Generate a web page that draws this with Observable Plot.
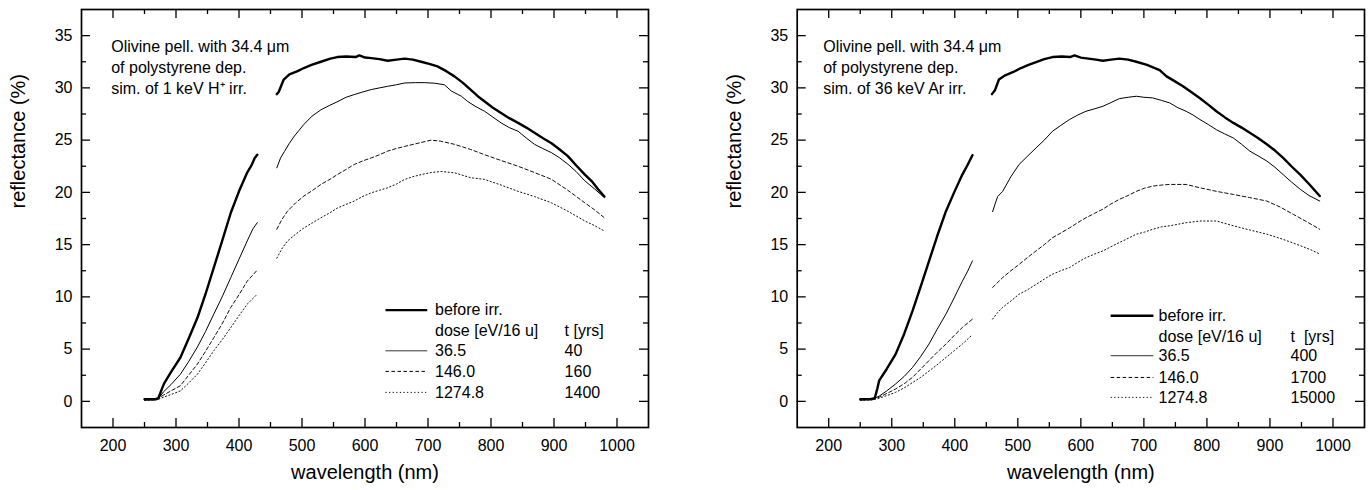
<!DOCTYPE html>
<html><head><meta charset="utf-8">
<script src="https://cdn.jsdelivr.net/npm/d3@7"></script>
<script src="https://cdn.jsdelivr.net/npm/@observablehq/plot@0.6"></script>
<style>
body{margin:0;background:#fff;}
#row{display:flex;width:1372px;height:490px;}
svg{font-family:"Liberation Sans",Arial,sans-serif;}
</style></head><body><div id="row"></div>
<script>
// ---- ticks ----
const xMajor = [200,300,400,500,600,700,800,900,1000];
const xMinor = [250,350,450,550,650,750,850,950];
const yMajor = [0,5,10,15,20,25,30,35];
const yMinor = [2.5,7.5,12.5,17.5,22.5,27.5,32.5];

// ---- legend labels ----
const doses = ["36.5","146.0","1274.8"];
const yearsLeft = ["40","160","1400"];
const yearsRight = ["400","1700","15000"];
const noteLeft = "Olivine pell. with 34.4 \u03bcm\nof polystyrene dep.\nsim. of 1 keV H\u207a irr.";
const noteRight = "Olivine pell. with 34.4 \u03bcm\nof polystyrene dep.\nsim. of 36 keV Ar irr.";

// ---- left panel (1 keV H+) : [wavelength nm, reflectance %] ----
const L_beforeUV = [[250,0.2],[258,0.22],[266,0.2],[272,0.3],[277,1.1],[281,1.7],[292,2.8],[307,4.2],[320,6.0],[334,8.0],[347,10.3],[360,12.8],[374,15.5],[387,18.05],[400,20.1],[413,21.9],[420,22.6],[425,23.3],[429,23.6]];
const L_beforeVIS = [[460,29.4],[463,29.6],[471,30.8],[480,31.3],[493,31.6],[503,31.9],[515,32.2],[530,32.5],[545,32.8],[556,32.95],[570,33.0],[585,32.95],[591,33.1],[600,32.9],[610,32.85],[623,32.75],[636,32.6],[650,32.7],[663,32.8],[676,32.7],[689,32.5],[702,32.3],[715,32.06],[729,31.6],[742,31.1],[755,30.5],[768,29.8],[779,29.2],[790,28.7],[803,28.1],[816,27.6],[829,27.1],[843,26.65],[856,26.2],[869,25.7],[882,25.2],[896,24.7],[909,24.1],[922,23.47],[935,22.6],[949,21.7],[961,21.0],[970,20.3],[980,19.6]];
const L_d1UV = [[250,0.15],[266,0.15],[272,0.25],[280,0.9],[292,1.6],[307,2.6],[320,3.8],[334,5.2],[347,6.7],[360,8.35],[374,10.1],[387,11.85],[400,13.6],[413,15.35],[422,16.5],[429,17.1]];
const L_d1VIS = [[460,22.35],[466,23.3],[472,23.9],[480,24.7],[488,25.4],[503,26.5],[516,27.3],[530,27.9],[543,28.3],[557,28.7],[570,29.1],[583,29.36],[596,29.6],[610,29.84],[623,30.0],[636,30.15],[650,30.3],[663,30.47],[680,30.5],[694,30.5],[710,30.45],[726,30.3],[737,29.7],[753,29.2],[763,28.7],[776,28.2],[790,27.76],[803,27.2],[816,26.65],[829,26.2],[843,25.85],[856,25.2],[869,24.6],[882,24.2],[896,23.8],[909,23.3],[922,22.7],[935,22.0],[949,21.1],[965,20.3],[980,19.5]];
const L_d2UV = [[250,0.15],[270,0.2],[280,0.6],[292,1.0],[307,1.5],[320,2.5],[334,3.57],[347,4.8],[360,6.1],[374,7.5],[387,9.0],[400,10.2],[413,11.5],[428,12.5]];
const L_d2VIS = [[460,16.47],[468,17.4],[477,18.2],[490,19.0],[503,19.65],[517,20.2],[530,20.76],[543,21.2],[556,21.7],[570,22.2],[583,22.67],[596,23.0],[610,23.3],[623,23.6],[636,23.95],[650,24.2],[663,24.4],[684,24.7],[705,25.0],[720,24.9],[742,24.6],[768,24.1],[790,23.6],[816,23.05],[843,22.5],[869,21.9],[896,21.25],[922,20.2],[949,19.0],[965,18.3],[980,17.57]];
const L_d3UV = [[250,0.1],[270,0.15],[280,0.4],[292,0.65],[307,1.0],[320,1.75],[334,2.6],[347,3.7],[360,4.85],[374,5.95],[387,7.07],[400,8.2],[413,9.3],[429,10.26]];
const L_d3VIS = [[460,13.7],[468,14.6],[477,15.35],[490,16.0],[503,16.6],[517,17.1],[530,17.57],[543,18.0],[556,18.5],[570,18.85],[583,19.17],[596,19.6],[610,19.96],[623,20.2],[636,20.44],[650,20.8],[663,21.24],[676,21.5],[689,21.7],[705,21.9],[721,22.0],[742,21.87],[768,21.4],[790,21.24],[816,20.7],[843,20.1],[869,19.6],[896,19.0],[922,18.2],[949,17.26],[965,16.8],[980,16.3]];

// ---- right panel (36 keV Ar) ----
const R_beforeUV = [[250,0.2],[258,0.22],[266,0.2],[273,0.3],[277,1.2],[280,1.98],[292,3.1],[306,4.5],[320,6.5],[333,8.66],[346,11.0],[359,13.4],[372,15.8],[386,18.2],[399,20.0],[412,21.7],[420,22.6],[428,23.56]];
const R_beforeVIS = [[459,29.4],[464,29.8],[470,30.8],[480,31.2],[492,31.5],[505,31.9],[517,32.2],[529,32.47],[542,32.75],[555,32.95],[570,33.0],[583,32.95],[590,33.1],[600,32.9],[612,32.8],[624,32.7],[635,32.6],[648,32.7],[661,32.8],[675,32.7],[688,32.5],[705,32.2],[725,31.7],[736,31.1],[750,30.6],[762,30.15],[775,29.6],[789,29.0],[802,28.4],[815,27.76],[828,27.2],[842,26.65],[855,26.2],[868,25.7],[881,25.2],[895,24.6],[908,24.0],[921,23.3],[934,22.5],[948,21.7],[962,20.8],[979,19.65]];
const R_d1UV = [[250,0.15],[270,0.2],[280,0.5],[292,1.0],[306,1.66],[320,2.4],[333,3.25],[346,4.3],[359,5.48],[372,6.9],[386,8.35],[399,9.9],[412,11.5],[420,12.4],[428,13.44]];
const R_d1VIS = [[460,18.15],[464,18.9],[468,19.6],[476,20.1],[489,21.5],[502,22.67],[516,23.5],[529,24.26],[542,25.0],[555,25.85],[568,26.4],[582,26.97],[595,27.4],[608,27.76],[622,28.0],[635,28.24],[648,28.6],[661,28.97],[675,29.1],[688,29.2],[700,29.1],[714,29.04],[728,28.8],[741,28.56],[754,28.1],[767,27.76],[778,27.4],[789,26.97],[802,26.5],[815,26.0],[828,25.6],[842,25.2],[855,24.6],[868,23.95],[881,23.5],[895,23.0],[908,22.4],[921,21.7],[934,21.0],[948,20.3],[962,19.7],[979,19.17]];
const R_d2UV = [[250,0.15],[270,0.2],[280,0.4],[292,0.75],[306,1.18],[320,1.7],[333,2.3],[346,3.1],[359,3.9],[372,4.7],[386,5.48],[399,6.3],[412,7.07],[428,7.87]];
const R_d2VIS = [[460,10.9],[476,11.85],[489,12.5],[502,13.1],[516,13.8],[529,14.4],[542,15.0],[555,15.66],[568,16.1],[582,16.6],[595,17.1],[608,17.57],[622,18.0],[635,18.4],[648,18.9],[661,19.33],[675,19.7],[688,20.1],[701,20.4],[714,20.6],[728,20.7],[741,20.76],[767,20.76],[789,20.44],[815,20.1],[842,19.8],[868,19.5],[895,19.17],[916,18.6],[937,17.9],[958,17.2],[979,16.47]];
const R_d3UV = [[250,0.1],[270,0.15],[280,0.3],[292,0.55],[306,0.86],[320,1.3],[333,1.8],[346,2.3],[359,2.9],[372,3.5],[386,4.2],[399,4.85],[412,5.48],[426,6.27]];
const R_d3VIS = [[460,7.87],[468,8.5],[476,9.0],[489,9.6],[502,10.26],[516,10.7],[529,11.2],[542,11.7],[555,12.17],[568,12.5],[582,12.8],[595,13.3],[608,13.75],[622,14.1],[635,14.4],[648,14.8],[661,15.2],[675,15.6],[688,16.0],[701,16.2],[714,16.47],[728,16.7],[741,16.8],[767,17.1],[789,17.26],[815,17.26],[842,16.8],[868,16.4],[895,16.0],[921,15.5],[948,14.9],[965,14.5],[979,14.1]];

const styles = [
  {stroke: "#000", strokeWidth: 2.4},
  {stroke: "#000", strokeWidth: 1},
  {stroke: "#111", strokeWidth: 1, strokeDasharray: "3.5,2.5"},
  {stroke: "#111", strokeWidth: 1, strokeDasharray: "1.2,2.4"}
];

function panel(cfg) {
  const W = 686, H = 490, mt = 9, mb = 63;
  const innerH = H - mt - mb;
  const innerW = W - cfg.ml - cfg.mr;
  const marks = [];
  cfg.series.forEach((segs, i) => {
    segs.forEach(seg => marks.push(Plot.line(seg, {x: d => d[0], y: d => d[1], strokeLinejoin: "round", ...styles[i]})));
  });
  // inward ticks on all four sides
  const tk = {stroke: "#000", strokeWidth: 1.3};
  marks.push(
    Plot.tickX(xMajor, {x: d => d, insetTop: innerH - 9, ...tk}),
    Plot.tickX(xMinor, {x: d => d, insetTop: innerH - 5, ...tk}),
    Plot.tickX(xMajor, {x: d => d, insetBottom: innerH - 9, ...tk}),
    Plot.tickX(xMinor, {x: d => d, insetBottom: innerH - 5, ...tk}),
    Plot.tickY(yMajor, {y: d => d, insetRight: innerW - 9, ...tk}),
    Plot.tickY(yMinor, {y: d => d, insetRight: innerW - 5, ...tk}),
    Plot.tickY(yMajor, {y: d => d, insetLeft: innerW - 9, ...tk}),
    Plot.tickY(yMinor, {y: d => d, insetLeft: innerW - 5, ...tk}),
    Plot.frame({stroke: "#000", strokeWidth: 1.7})
  );
  // tick labels and titles
  marks.push(
    Plot.text(xMajor, {x: d => d, text: d => String(d), frameAnchor: "bottom", dy: 23, lineAnchor: "bottom", fontSize: 16, fill: "#000"}),
    Plot.text(yMajor, {y: d => d, text: d => String(d), frameAnchor: "left", dx: -9, textAnchor: "end", lineAnchor: "middle", fontSize: 16, fill: "#000"}),
    Plot.text(["wavelength (nm)"], {frameAnchor: "bottom", dy: 51, lineAnchor: "bottom", fontSize: 20, fill: "#000"}),
    Plot.text(["reflectance (%)"], {frameAnchor: "left", dx: -56.5, dy: -10, rotate: -90, lineAnchor: "bottom", fontSize: 20, fill: "#000"}),
    Plot.text([cfg.note], {frameAnchor: "top-left", dx: cfg.noteDx, dy: 28, textAnchor: "start", lineAnchor: "top", lineHeight: 1.31, fontSize: 16, fill: "#000"})
  );
  // legend
  const lg = cfg.legend;
  const rowsWithLine = [0, 2, 3, 4];
  rowsWithLine.forEach((r, i) => {
    marks.push(Plot.ruleY([lg.rows[r]], {y: d => d, x1: lg.x1, x2: lg.x2, ...styles[i], stroke: i === 1 ? "#333" : "#000"}));
  });
  const lt = {textAnchor: "start", lineAnchor: "middle", fontSize: 16, fill: "#000"};
  marks.push(
    Plot.text(["before irr."], {x: lg.tx, y: lg.rows[0], ...lt}),
    Plot.text(["dose [eV/16 u]"], {x: lg.tx, y: lg.rows[1], ...lt}),
    Plot.text([cfg.tHeader], {x: lg.tc, y: lg.rows[1], ...lt}),
    Plot.text(doses, {x: lg.tx, y: (d, i) => lg.rows[i + 2], ...lt}),
    Plot.text(cfg.years, {x: lg.tc, y: (d, i) => lg.rows[i + 2], ...lt})
  );
  return Plot.plot({
    width: W, height: H,
    marginLeft: cfg.ml, marginRight: cfg.mr, marginTop: mt, marginBottom: mb,
    x: {domain: [150, 1050], axis: null},
    y: {domain: [-2.5, 37.5], axis: null},
    style: {fontFamily: '"Liberation Sans", Arial, sans-serif', background: "#fff", overflow: "visible"},
    marks
  });
}

const row = document.getElementById("row");
row.append(panel({
  ml: 81, mr: 38,
  series: [[L_beforeUV, L_beforeVIS], [L_d1UV, L_d1VIS], [L_d2UV, L_d2VIS], [L_d3UV, L_d3VIS]],
  note: noteLeft, noteDx: 29.7,
  years: yearsLeft, tHeader: "t [yrs]",
  legend: {x1: 633.3, x2: 699.6, tx: 711.2, tc: 916.8, rows: [8.73, 6.75, 4.84, 2.87, 0.86]}
}));
row.append(panel({
  ml: 110.7, mr: 8,
  series: [[R_beforeUV, R_beforeVIS], [R_d1UV, R_d1VIS], [R_d2UV, R_d2VIS], [R_d3UV, R_d3VIS]],
  note: noteRight, noteDx: 26,
  years: yearsRight, tHeader: "t\u00a0 [yrs]",
  legend: {x1: 648.1, x2: 716, tx: 723.3, tc: 932.7, rows: [8.19, 6.21, 4.37, 2.29, 0.38]}
}));
</script></body></html>
